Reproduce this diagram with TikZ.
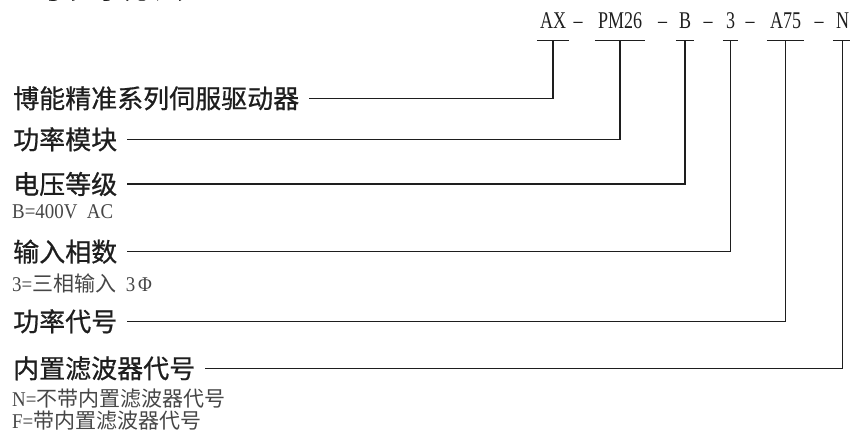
\documentclass[tikz,border=0pt]{standalone}
\usepackage{fontspec}
\usetikzlibrary{positioning}
\newfontfamily\cjkfont{Noto Sans CJK SC}
\newfontfamily\cjkmedium[FakeBold=0.7]{Noto Sans CJK SC}
\newfontfamily\codefont[FakeStretch=0.75]{Liberation Serif}
\newfontfamily\notefont[FakeStretch=0.9]{Liberation Serif}
\definecolor{inkc}{RGB}{30,30,30}
\definecolor{notec}{RGB}{70,70,70}
\tikzset{
  code/.style    = {font=\codefont\fontsize{24}{26}\selectfont, text=inkc, anchor=base,
                    text depth=0pt, inner xsep=3pt, inner ysep=11pt},
  hyph/.style    = {font=\codefont\fontsize{24}{26}\selectfont, text=inkc, anchor=base, inner sep=0pt},
  part/.style    = {font=\cjkmedium\fontsize{26}{30}\selectfont, text=inkc, anchor=west,
                    inner xsep=10pt, inner ysep=1pt},
  note/.style    = {font=\cjkfont\fontsize{21}{24}\selectfont, text=notec, anchor=base west, inner sep=0pt},
  bar/.style     = {line width=1.3pt, draw=inkc},
  lead/.style    = {line width=1.3pt, draw=inkc},
}

\begin{document}
\begin{tikzpicture}[x=1pt, y=-1pt]
\useasboundingbox (0,0) rectangle (850,435);
\clip (0,0) rectangle (850,435);

% ---------- title (cut by the page edge) ----------
\node[anchor=base west, inner sep=0pt, font=\cjkmedium\fontsize{29.5}{30}\selectfont, text=inkc] (title) at (6,-1.5) {型号表示方法};

% ---------- model code ----------
\node[code] (sAX)  at (553,29)   {AX};
\node[code] (sPM)  at (620,29)   {PM26};
\node[code] (sB)   at (685,29)   {B};
\node[code] (s3)   at (730.5,29) {3};
\node[code] (sA75) at (785.5,29) {A75};
\node[code] (sN)   at (842.5,29) {N};
\node[hyph] (d1) at (578,29)   {\textendash};
\node[hyph] (d2) at (662.5,29) {\textendash};
\node[hyph] (d3) at (708,29)   {\textendash};
\node[hyph] (d4) at (750,29)   {\textendash};
\node[hyph] (d5) at (819,29)   {\textendash};
\foreach \s in {sAX,sPM,sB,s3,sA75,sN}
  \draw[bar] (\s.south west) -- (\s.south east);

% ---------- parts ----------
\node[part] (lDrive)  at (3,98.3)  {博能精准系列伺服驱动器};
\node[part] (lPower)  at (3,139.3) {功率模块};
\node[part] (lVolt)   at (3,184)   {电压等级};
\node[part] (lPhase)  at (3,251.7) {输入相数};
\node[part] (lCode)   at (3,321.3) {功率代号};
\node[part] (lFilter) at (3,368.3) {内置滤波器代号};

% ---------- notes ----------
\node[note] (nVolt)   at (12,219) {{\notefont B=400V\ \ AC}};
\node[note] (nPhase)  at (12,291) {{\notefont 3=}三相输入{\notefont\ \ 3\kern3pt Φ}};
\node[note] (nFilterN) at (12,406) {{\notefont N=}不带内置滤波器代号};
\node[note] (nFilterF) at (12,428) {{\notefont F=}带内置滤波器代号};

% ---------- leads ----------
\draw[lead] (lDrive.east)  -| (sAX.south);
\draw[lead] (lPower.east)  -| (sPM.south);
\draw[lead] (lVolt.east)   -| (sB.south);
\draw[lead] (lPhase.east)  -| (s3.south);
\draw[lead] (lCode.east)   -| (sA75.south);
\draw[lead] (lFilter.east) -| (sN.south);

\end{tikzpicture}
\end{document}
